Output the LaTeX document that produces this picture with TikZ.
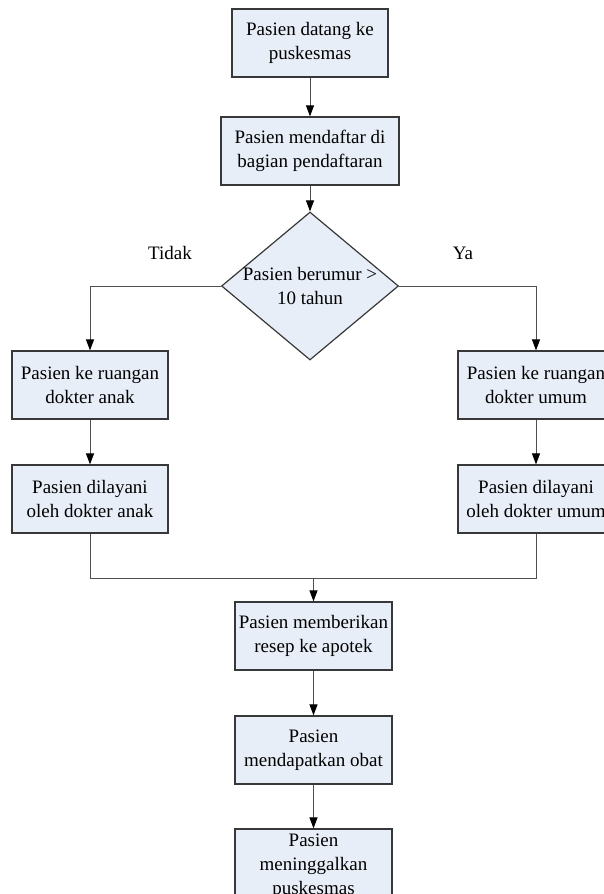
\documentclass[tikz,border=0pt]{standalone}
\usepackage{fontspec}
\setmainfont{Liberation Serif}
\usepackage{xcolor}
\usetikzlibrary{shapes.geometric, arrows.meta}

\definecolor{boxfill}{HTML}{E8EEF8}
\definecolor{boxline}{HTML}{383838}
\definecolor{flowline}{HTML}{505050}

\tikzset{
	proses/.style={rectangle, draw=boxline, line width=1.2pt, fill=boxfill,
		minimum width=156pt, minimum height=68pt, inner sep=0pt,
		align=center, font=\fontsize{19}{24}\selectfont},
	pilihan/.style={diamond, draw=boxline, line width=1.2pt, fill=boxfill,
		minimum width=177pt, minimum height=148pt, aspect=1.2,
		inner xsep=-5pt, inner ysep=0pt,
		align=center, font=\fontsize{19}{24}\selectfont},
	jawab/.style={font=\fontsize{19}{24}\selectfont}
}

\begin{document}
\begin{tikzpicture}[x=1pt, y=-1pt, >={Triangle[length=11pt, width=8pt, color=black]},
			line width=1pt, draw=flowline, node distance=114pt]
		\useasboundingbox (0,0) rectangle (604,894);
		\node[proses] (datang) at (310, 43) {Pasien datang ke\\puskesmas};
		\node[proses, minimum width=178pt, below of=datang, node distance=108pt] (daftar) {Pasien mendaftar di\\bagian pendaftaran};
		\node[pilihan, below of=daftar, node distance=135pt] (umur) {Pasien berumur >\\10 tahun};

		\node[proses] (ruanganak) at (90, 385) {Pasien ke ruangan\\dokter anak};
		\node[proses, below of=ruanganak] (layananak) {Pasien dilayani\\oleh dokter anak};
		\node[proses] (ruangumum) at (536, 385) {Pasien ke ruangan\\dokter umum};
		\node[proses, below of=ruangumum] (layanumum) {Pasien dilayani\\oleh dokter umum};

		\coordinate (gabung) at (313.5, 578);
		\node[proses, minimum width=157pt] (resep) at (313.5, 636) {Pasien memberikan\\resep ke apotek};
		\node[proses, minimum width=157pt, below of=resep] (obat) {Pasien\\mendapatkan obat};
		\node[proses, minimum width=157pt, minimum height=74pt, below of=obat, node distance=116pt] (pulang) {Pasien\\meninggalkan\\puskesmas};

		\node[jawab] (tidak) at (170, 253) {Tidak};
		\node[jawab] (ya) at (463, 253) {Ya};

		\draw[->] (datang) -- (daftar);
		\draw[->] (daftar) -- (umur);
		\draw[->] (umur.west) -| (ruanganak.north);
		\draw[->] (umur.east) -| (ruangumum.north);
		\draw[->] (ruanganak) -- (layananak);
		\draw[->] (ruangumum) -- (layanumum);
		\draw (layananak.south) |- (gabung);
		\draw (layanumum.south) |- (gabung);
		\draw[->] (gabung) -- (resep);
		\draw[->] (resep) -- (obat);
		\draw[->] (obat) -- (pulang);
	\end{tikzpicture}
\end{document}
